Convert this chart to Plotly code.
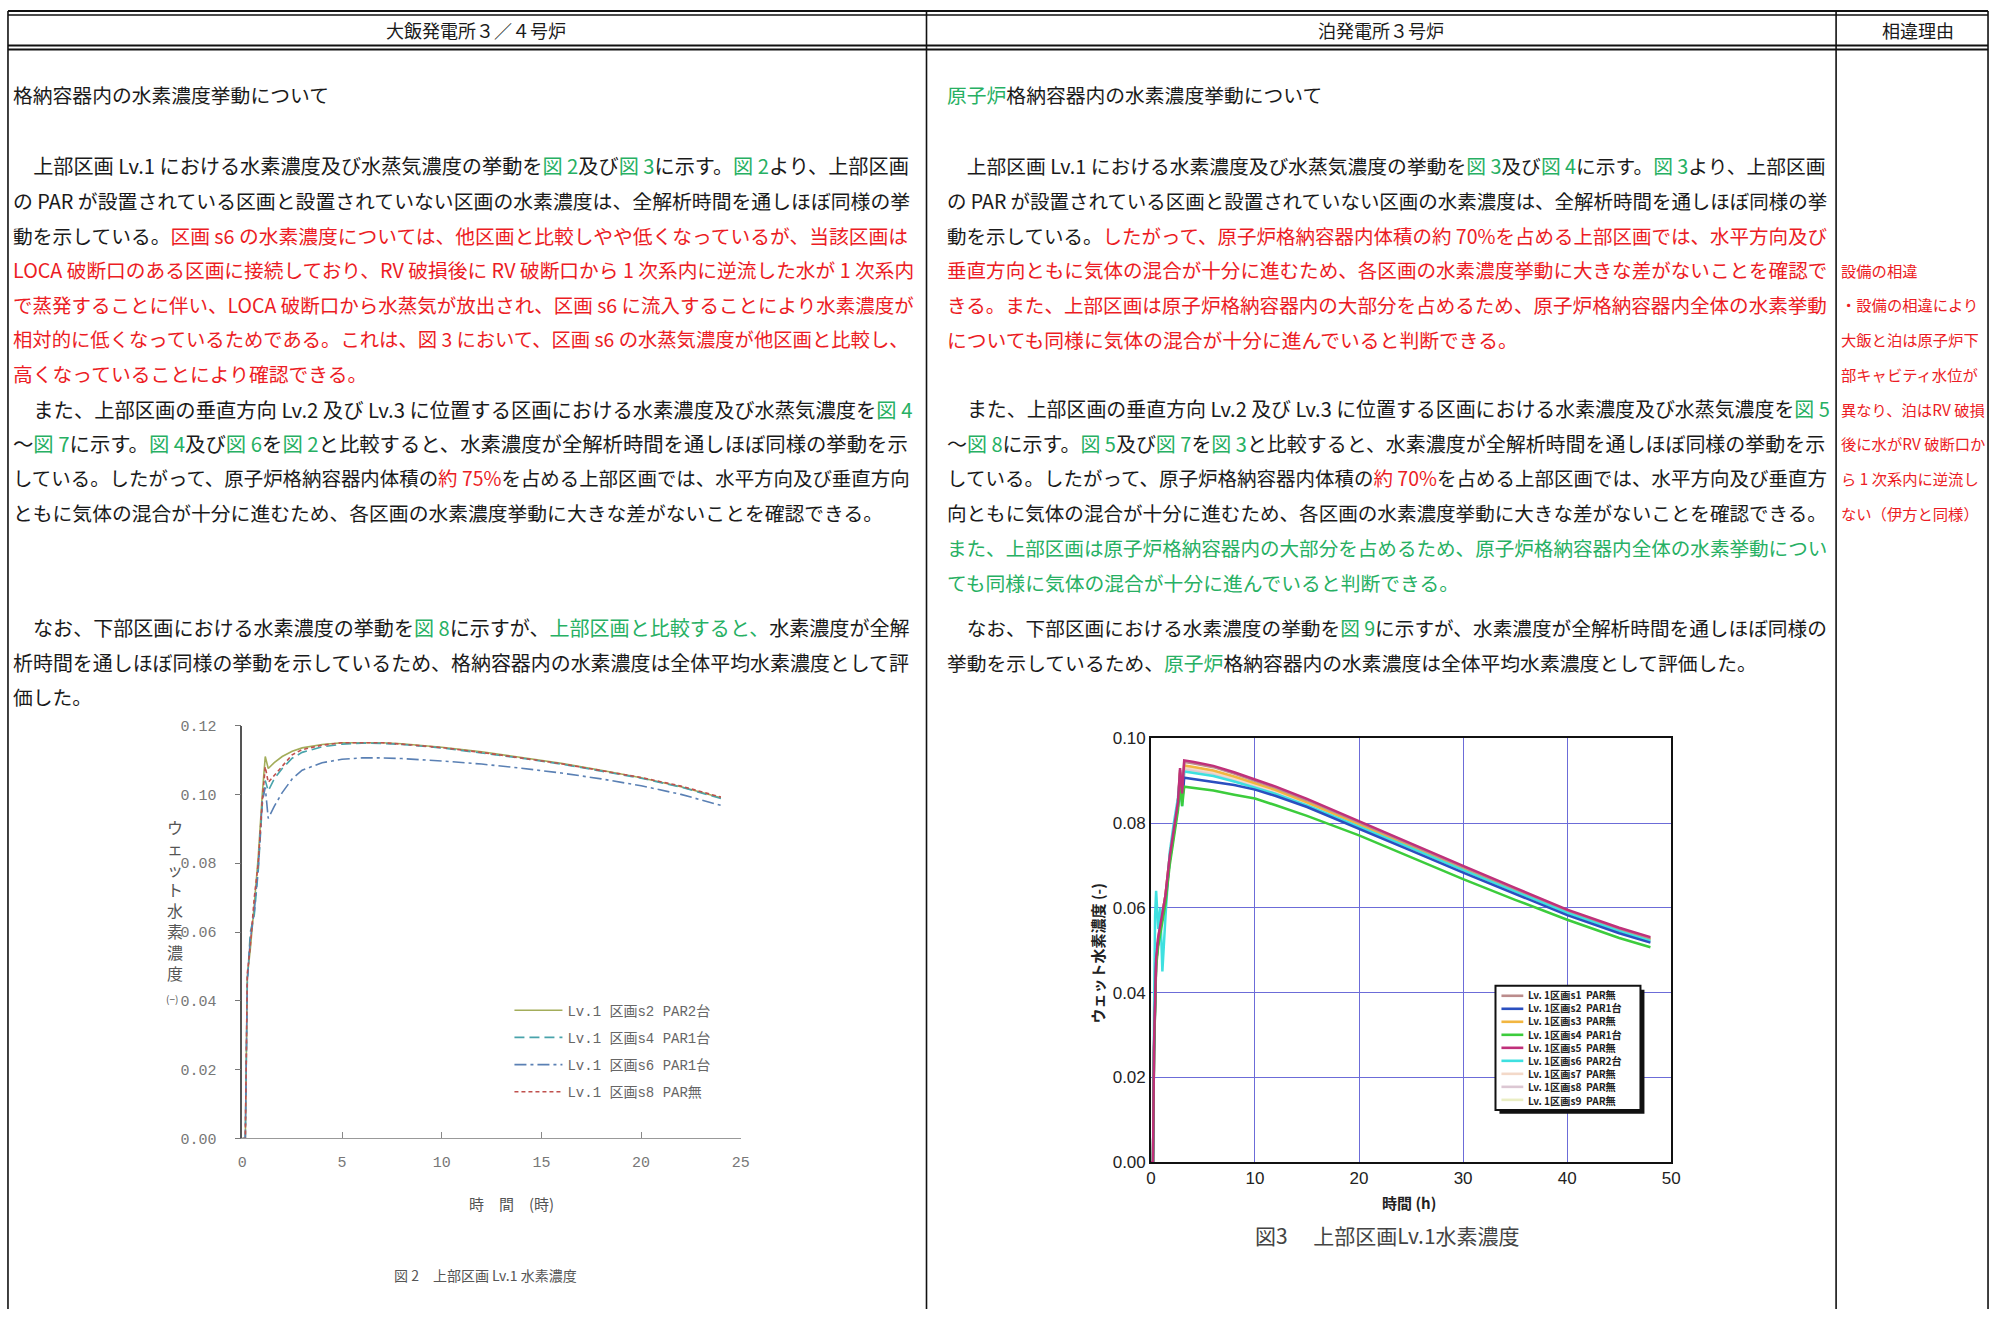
import re
import plotly.graph_objects as go

W, H = 2000, 1319

# ---------------- 図2 (大飯発電所3/4号炉) data ----------------
ohi_time = [0, 0.15, 0.25, 0.4, 0.6, 0.8, 1.0, 1.15, 1.3, 1.6, 2.0, 2.5, 3, 4, 5, 6, 7, 8, 10, 12, 14, 16, 18, 20, 22, 24]
ohi_s2 = [0, 0, 0.047, 0.055, 0.068, 0.082, 0.100, 0.111, 0.1075, 0.1092, 0.1110, 0.1125, 0.1135, 0.1145, 0.1150, 0.1151, 0.1150, 0.1147, 0.1137, 0.1124, 0.1108, 0.1090, 0.1070, 0.1048, 0.1022, 0.0990]
ohi_s4 = [0, 0, 0.045, 0.060, 0.065, 0.078, 0.097, 0.104, 0.1010, 0.1045, 0.1075, 0.1105, 0.1122, 0.1138, 0.1146, 0.1149, 0.1148, 0.1145, 0.1135, 0.1121, 0.1105, 0.1088, 0.1068, 0.1047, 0.1021, 0.0988]
ohi_s6 = [0, 0, 0.046, 0.058, 0.066, 0.079, 0.098, 0.102, 0.0930, 0.0965, 0.1005, 0.1045, 0.1070, 0.1092, 0.1102, 0.1106, 0.1106, 0.1104, 0.1097, 0.1088, 0.1076, 0.1062, 0.1045, 0.1025, 0.1000, 0.0968]
ohi_s8 = [0, 0, 0.048, 0.056, 0.070, 0.080, 0.098, 0.108, 0.1035, 0.1055, 0.1085, 0.1115, 0.1130, 0.1143, 0.1150, 0.1151, 0.1150, 0.1146, 0.1136, 0.1122, 0.1106, 0.1089, 0.1069, 0.1049, 0.1024, 0.0992]
ohi_names = ["Lv.1 区画s2 PAR2台", "Lv.1 区画s4 PAR1台", "Lv.1 区画s6 PAR1台", "Lv.1 区画s8 PAR無"]
ohi_xticks = [0, 5, 10, 15, 20, 25]
ohi_yticks = [0.00, 0.02, 0.04, 0.06, 0.08, 0.10, 0.12]

# ---------------- 図3 (泊発電所3号炉) data ----------------
tom_time = [0, 0.2, 0.3, 0.4, 0.5, 0.7, 0.9, 1.1, 1.4, 1.8, 2.2, 2.6, 2.8, 3.0, 3.2, 3.5, 4, 6, 8, 10, 12, 15, 20, 25, 30, 35, 40, 45, 48]
tom_s1 = [0, 0, 0.027, 0.040, 0.048, 0.053, 0.056, 0.058, 0.063, 0.072, 0.079, 0.085, 0.0925, 0.0868, 0.0944, 0.0943, 0.0941, 0.0932, 0.0917, 0.0900, 0.0883, 0.0854, 0.0801, 0.0748, 0.0696, 0.0644, 0.0593, 0.0550, 0.0528]
tom_s2 = [0, 0, 0.026, 0.039, 0.047, 0.052, 0.055, 0.057, 0.062, 0.071, 0.078, 0.084, 0.0900, 0.0850, 0.0907, 0.0906, 0.0904, 0.0898, 0.0890, 0.0879, 0.0864, 0.0838, 0.0787, 0.0735, 0.0683, 0.0633, 0.0583, 0.0540, 0.0518]
tom_s3 = [0, 0, 0.027, 0.039, 0.047, 0.052, 0.055, 0.058, 0.063, 0.072, 0.079, 0.085, 0.0920, 0.0860, 0.0936, 0.0935, 0.0933, 0.0924, 0.0910, 0.0894, 0.0878, 0.0849, 0.0797, 0.0745, 0.0693, 0.0641, 0.0591, 0.0548, 0.0526]
tom_s4 = [0, 0, 0.026, 0.038, 0.046, 0.051, 0.054, 0.056, 0.061, 0.070, 0.077, 0.083, 0.0890, 0.0840, 0.0886, 0.0885, 0.0884, 0.0877, 0.0867, 0.0858, 0.0842, 0.0817, 0.0771, 0.0720, 0.0668, 0.0619, 0.0572, 0.0529, 0.0507]
tom_s5 = [0, 0, 0.028, 0.040, 0.048, 0.053, 0.056, 0.058, 0.063, 0.072, 0.079, 0.085, 0.0930, 0.0870, 0.0948, 0.0947, 0.0945, 0.0935, 0.0920, 0.0903, 0.0886, 0.0857, 0.0804, 0.0751, 0.0699, 0.0647, 0.0596, 0.0553, 0.0531]
tom_s6 = [0, 0, 0.035, 0.058, 0.064, 0.055, 0.060, 0.045, 0.058, 0.073, 0.080, 0.086, 0.0910, 0.0840, 0.0922, 0.0921, 0.0919, 0.0911, 0.0898, 0.0884, 0.0869, 0.0842, 0.0792, 0.0741, 0.0689, 0.0638, 0.0588, 0.0545, 0.0522]
tom_s7 = [0, 0, 0.027, 0.039, 0.047, 0.052, 0.055, 0.058, 0.063, 0.072, 0.079, 0.085, 0.0918, 0.0860, 0.0932, 0.0931, 0.0929, 0.0920, 0.0906, 0.0891, 0.0875, 0.0846, 0.0795, 0.0743, 0.0691, 0.0640, 0.0590, 0.0547, 0.0525]
tom_s8 = [0, 0, 0.027, 0.039, 0.047, 0.052, 0.055, 0.057, 0.062, 0.071, 0.079, 0.085, 0.0915, 0.0858, 0.0928, 0.0927, 0.0925, 0.0917, 0.0903, 0.0888, 0.0872, 0.0844, 0.0793, 0.0742, 0.0690, 0.0639, 0.0589, 0.0546, 0.0524]
tom_s9 = [0, 0, 0.026, 0.039, 0.047, 0.052, 0.055, 0.057, 0.062, 0.071, 0.078, 0.084, 0.0912, 0.0856, 0.0925, 0.0924, 0.0922, 0.0914, 0.0900, 0.0886, 0.0870, 0.0842, 0.0792, 0.0741, 0.0689, 0.0638, 0.0588, 0.0545, 0.0523]
tom_names = ["Lv. 1区画s1  PAR無", "Lv. 1区画s2  PAR1台", "Lv. 1区画s3  PAR無", "Lv. 1区画s4  PAR1台",
             "Lv. 1区画s5  PAR無", "Lv. 1区画s6  PAR2台", "Lv. 1区画s7  PAR無", "Lv. 1区画s8  PAR無",
             "Lv. 1区画s9  PAR無"]
tom_xticks = [0, 10, 20, 30, 40, 50]
tom_yticks = [0.00, 0.02, 0.04, 0.06, 0.08, 0.10]

# ---------------- helpers ----------------
def X(px):
    return px / W

def Y(py):
    return 1 - py / H

RED = "#ec1c24"
GRN = "#27b063"
BLK = "#1a1a1a"
JP = "Noto Sans CJK JP"
BASE = 19.8

ASCII_W = {" ": 0.224, ".": 0.25, ",": 0.25, "%": 0.83, "L": 0.49, "v": 0.47, "P": 0.6, "A": 0.58,
           "R": 0.6, "O": 0.68, "C": 0.59, "s": 0.44, "V": 0.56}

def em_width(s):
    plain = re.sub(r"<[^>]+>", "", s)
    w = 0.0
    for c in plain:
        if ord(c) < 128:
            w += 0.553 if c.isdigit() else ASCII_W.get(c, 0.55)
        else:
            w += 1.0
    return w

def r(s):
    return f'<span style="color:{RED}">{s}</span>'

def g(s):
    return f'<span style="color:{GRN}">{s}</span>'

fig = go.Figure()

# ---- left chart traces ----
ohi_series = [ohi_s2, ohi_s4, ohi_s6, ohi_s8]
ohi_colors = ["#a3ad5a", "#49a3ab", "#5a80b4", "#c0504d"]
ohi_dash = ["solid", "10px,5px", "12px,4px,3px,4px", "4px,3px"]
for i, (ys, nm) in enumerate(zip(ohi_series, ohi_names)):
    fig.add_trace(go.Scatter(x=ohi_time, y=ys, mode="lines", name=nm,
                             line=dict(color=ohi_colors[i], width=1.6, dash=ohi_dash[i]),
                             xaxis="x", yaxis="y", legendgroup=f"g{i}", showlegend=True))

# ---- right chart traces ----
tom_series = [tom_s1, tom_s2, tom_s3, tom_s4, tom_s5, tom_s6, tom_s7, tom_s8, tom_s9]
tom_colors = ["#bb8c8c", "#2a4fc0", "#f2b640", "#3ccc3c", "#c0307a", "#3ee0e0", "#f3d9c9", "#dcc7d3", "#eaeec4"]
draw_order = [8, 7, 6, 2, 0, 5, 1, 3, 4]
for i in draw_order:
    fig.add_trace(go.Scatter(x=tom_time, y=tom_series[i], mode="lines", name=tom_names[i],
                             line=dict(color=tom_colors[i], width=2.5),
                             xaxis="x2", yaxis="y2", showlegend=False))

shapes = []
ann = []

# ---- table frame ----
def hline(y, x0, x1, w):
    shapes.append(dict(type="line", xref="paper", yref="paper", x0=X(x0), x1=X(x1), y0=Y(y), y1=Y(y),
                       line=dict(color="#111", width=w)))

def vline(x, y0, y1, w):
    shapes.append(dict(type="line", xref="paper", yref="paper", x0=X(x), x1=X(x), y0=Y(y0), y1=Y(y1),
                       line=dict(color="#111", width=w)))

hline(2, 3, 1997, 2)
hline(6, 3, 1997, 1.5)
hline(37, 3, 1997, 2)
hline(41, 3, 1997, 2)
for xv in (3, 928, 1844, 1997):
    vline(xv, 2, 1319, 1.6)

def text(x, y, s, size=BASE, color=BLK, anchor="left", family=JP):
    ann.append(dict(x=X(x), y=Y(y), xref="paper", yref="paper", text=s, showarrow=False,
                    xanchor=anchor, yanchor="middle", font=dict(family=family, size=size, color=color)))

# headers
text(474, 21, "大飯発電所３／４号炉", size=18, anchor="center")
text(1386, 21, "泊発電所３号炉", size=18, anchor="center")
text(1926, 21, "相違理由", size=18, anchor="center")

def ly(n):
    return 159 + 35.2 * n + (11 if n >= 13 else 0)

LX, LEND = 6, 904
RX, REND = 947, 1828

def body(x0, x1, n, s, justify=True):
    size = BASE
    if justify:
        size = max(17.0, min(21.5, (x1 - x0) / em_width(s)))
    text(x0, ly(n), s, size=size)

# left column
text(LX, 87, "格納容器内の水素濃度挙動について")
left_lines = [
    (0, "　上部区画 Lv.1 における水素濃度及び水蒸気濃度の挙動を" + g("図 2") + "及び" + g("図 3") + "に示す。" + g("図 2") + "より、上部区画", True),
    (1, "の PAR が設置されている区画と設置されていない区画の水素濃度は、全解析時間を通しほぼ同様の挙", True),
    (2, "動を示している。" + r("区画 s6 の水素濃度については、他区画と比較しやや低くなっているが、当該区画は"), True),
    (3, r("LOCA 破断口のある区画に接続しており、RV 破損後に RV 破断口から 1 次系内に逆流した水が 1 次系内"), True),
    (4, r("で蒸発することに伴い、LOCA 破断口から水蒸気が放出され、区画 s6 に流入することにより水素濃度が"), True),
    (5, r("相対的に低くなっているためである。これは、図 3 において、区画 s6 の水蒸気濃度が他区画と比較し、"), True),
    (6, r("高くなっていることにより確認できる。"), False),
    (7, "　また、上部区画の垂直方向 Lv.2 及び Lv.3 に位置する区画における水素濃度及び水蒸気濃度を" + g("図 4"), True),
    (8, "～" + g("図 7") + "に示す。" + g("図 4") + "及び" + g("図 6") + "を" + g("図 2") + "と比較すると、水素濃度が全解析時間を通しほぼ同様の挙動を示", True),
    (9, "している。したがって、原子炉格納容器内体積の" + r("約 75%") + "を占める上部区画では、水平方向及び垂直方向", True),
    (10, "ともに気体の混合が十分に進むため、各区画の水素濃度挙動に大きな差がないことを確認できる。", False),
    (13, "　なお、下部区画における水素濃度の挙動を" + g("図 8") + "に示すが、" + g("上部区画と比較すると、") + "水素濃度が全解", True),
    (14, "析時間を通しほぼ同様の挙動を示しているため、格納容器内の水素濃度は全体平均水素濃度として評", True),
    (15, "価した。", False),
]
for n, s, j in left_lines:
    body(LX, LEND, n, s, j)

# right column
text(RX, 87, g("原子炉") + "格納容器内の水素濃度挙動について")
right_lines = [
    (0, "　上部区画 Lv.1 における水素濃度及び水蒸気濃度の挙動を" + g("図 3") + "及び" + g("図 4") + "に示す。" + g("図 3") + "より、上部区画", True),
    (1, "の PAR が設置されている区画と設置されていない区画の水素濃度は、全解析時間を通しほぼ同様の挙", True),
    (2, "動を示している。" + r("したがって、原子炉格納容器内体積の約 70%を占める上部区画では、水平方向及び"), True),
    (3, r("垂直方向ともに気体の混合が十分に進むため、各区画の水素濃度挙動に大きな差がないことを確認で"), True),
    (4, r("きる。また、上部区画は原子炉格納容器内の大部分を占めるため、原子炉格納容器内全体の水素挙動"), True),
    (5, r("についても同様に気体の混合が十分に進んでいると判断できる。"), False),
    (7, "　また、上部区画の垂直方向 Lv.2 及び Lv.3 に位置する区画における水素濃度及び水蒸気濃度を" + g("図 5"), True),
    (8, "～" + g("図 8") + "に示す。" + g("図 5") + "及び" + g("図 7") + "を" + g("図 3") + "と比較すると、水素濃度が全解析時間を通しほぼ同様の挙動を示", True),
    (9, "している。したがって、原子炉格納容器内体積の" + r("約 70%") + "を占める上部区画では、水平方向及び垂直方", True),
    (10, "向ともに気体の混合が十分に進むため、各区画の水素濃度挙動に大きな差がないことを確認できる。", True),
    (11, g("また、上部区画は原子炉格納容器内の大部分を占めるため、原子炉格納容器内全体の水素挙動につい"), True),
    (12, g("ても同様に気体の混合が十分に進んでいると判断できる。"), False),
    (13, "　なお、下部区画における水素濃度の挙動を" + g("図 9") + "に示すが、水素濃度が全解析時間を通しほぼ同様の", True),
    (14, "挙動を示しているため、" + g("原子炉") + "格納容器内の水素濃度は全体平均水素濃度として評価した。", False),
]
for n, s, j in right_lines:
    body(RX, REND, n, s, j)

# reason column
reason_lines = ["設備の相違", "・設備の相違により", "大飯と泊は原子炉下", "部キャビティ水位が",
                "異なり、泊はRV 破損", "後に水がRV 破断口か", "ら 1 次系内に逆流し", "ない（伊方と同様）"]
for k, s in enumerate(reason_lines):
    text(1847, ly(3 + k), s, size=15.3, color=RED)

# ---- left chart labels ----
ann.append(dict(x=X(171), y=Y(826), xref="paper", yref="paper",
                text="ウ<br>ェ<br>ッ<br>ト<br>水<br>素<br>濃<br>度", showarrow=False,
                xanchor="center", yanchor="top", yshift=10,
                font=dict(family=JP, size=16, color="#555")))
text(168, 1004, "(−)", size=10, color="#555", anchor="center")
text(510, 1212, "時　間　(時)", size=15, color="#555", anchor="center")
text(484, 1285, "図 2　上部区画 Lv.1 水素濃度", size=14, color="#555", anchor="center")

# ---- right chart labels ----
ann.append(dict(x=X(1100), y=Y(958), xref="paper", yref="paper", text="<b>ウェット水素濃度 (-)</b>",
                showarrow=False, textangle=-90, xanchor="center", yanchor="middle",
                font=dict(family=JP, size=15, color="#222")))
text(1414, 1211, "<b>時間 (h)</b>", size=15, color="#222", anchor="center")
text(1392, 1244, "図3　 上部区画Lv.1水素濃度", size=21, color="#444", anchor="center")

# ---- right chart legend (drawn box) ----
lx0, lx1, ly0, ly1 = 1501, 1647, 991, 1117
shapes.append(dict(type="rect", xref="paper", yref="paper", x0=X(lx0 + 4), x1=X(lx1 + 4), y0=Y(ly0 + 4), y1=Y(ly1 + 4),
                   fillcolor="#111", line=dict(width=0), layer="above"))
shapes.append(dict(type="rect", xref="paper", yref="paper", x0=X(lx0), x1=X(lx1), y0=Y(ly0), y1=Y(ly1),
                   fillcolor="white", line=dict(color="#111", width=2), layer="above"))
leg_mid = (ly0 + ly1) / 2
leg_step = 13.2
for k in range(len(tom_names)):
    yy = leg_mid + (k - 4) * leg_step
    shapes.append(dict(type="line", xref="paper", yref="paper", x0=X(1507), x1=X(1529), y0=Y(yy), y1=Y(yy),
                       line=dict(color=tom_colors[k], width=2.6), layer="above"))
ann.append(dict(x=X(1532), y=Y(leg_mid), xref="paper", yref="paper", text="<b>" + "<br>".join(tom_names) + "</b>",
                showarrow=False, xanchor="left", yanchor="middle", align="left",
                font=dict(family=JP, size=leg_step / 1.3, color="#222")))

fig.update_layout(
    width=W, height=H, margin=dict(l=0, r=0, t=0, b=0),
    paper_bgcolor="white", plot_bgcolor="white",
    shapes=shapes, annotations=ann,
    showlegend=True,
    legend=dict(x=X(508), y=Y(1000), xanchor="left", yanchor="top", bgcolor="rgba(0,0,0,0)",
                font=dict(family="Liberation Mono, " + JP, size=14, color="#666"),
                itemwidth=48, tracegroupgap=6, traceorder="grouped"),
    xaxis=dict(domain=[X(239), X(741)], range=[0, 25], anchor="y", showgrid=False, zeroline=False,
               showline=True, linecolor="#999", linewidth=1, ticks="inside", ticklen=6, tickcolor="#888",
               tickvals=ohi_xticks, tickfont=dict(family="Liberation Mono", size=15, color="#777"),
               ticklabelstandoff=10),
    yaxis=dict(domain=[Y(1146), Y(727)], range=[0, 0.12], anchor="x", showgrid=False, zeroline=False,
               showline=True, linecolor="#555", linewidth=1.5, ticks="outside", ticklen=6, tickcolor="#777",
               tickvals=ohi_yticks, tickformat=".2f",
               tickfont=dict(family="Liberation Mono", size=15, color="#777"), ticklabelstandoff=15),
    xaxis2=dict(domain=[X(1154), X(1678)], range=[0, 50], anchor="y2", showgrid=True, gridcolor="#6c6cd8",
                gridwidth=1, zeroline=False, showline=True, mirror=True, linecolor="#111", linewidth=1.5,
                ticks="", tickvals=tom_xticks, tickfont=dict(family="Liberation Sans", size=17, color="#222")),
    yaxis2=dict(domain=[Y(1170), Y(740)], range=[0, 0.10], anchor="x2", showgrid=True, gridcolor="#6c6cd8",
                gridwidth=1, zeroline=False, showline=True, mirror=True, linecolor="#111", linewidth=1.5,
                ticks="", tickvals=tom_yticks, tickformat=".2f",
                tickfont=dict(family="Liberation Sans", size=17, color="#222")),
)

fig.write_html("out.html", config={"displayModeBar": False},
               post_script="document.body.style.margin='0';")
